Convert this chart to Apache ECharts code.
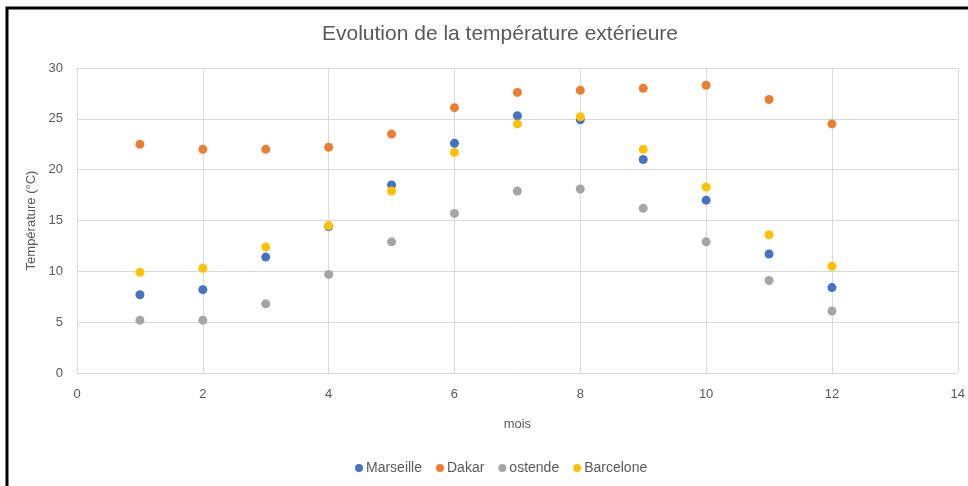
<!DOCTYPE html>
<html>
<head>
<meta charset="utf-8">
<script src="https://cdn.jsdelivr.net/npm/echarts@6/dist/echarts.min.js"></script>
<style>
html,body{margin:0;padding:0;background:#fff;}
#c{width:968px;height:486px;}
</style>
</head>
<body>
<div id="c"></div>
<script>
var months = [1, 2, 3, 4, 5, 6, 7, 8, 9, 10, 11, 12];
var marseille = [7.7, 8.2, 11.4, 14.4, 18.5, 22.6, 25.3, 24.9, 21.0, 17.0, 11.7, 8.4];
var dakar = [22.5, 22.0, 22.0, 22.2, 23.5, 26.1, 27.6, 27.8, 28.0, 28.3, 26.9, 24.5];
var ostende = [5.2, 5.2, 6.8, 9.7, 12.9, 15.7, 17.9, 18.1, 16.2, 12.9, 9.1, 6.1];
var barcelone = [9.9, 10.3, 12.4, 14.5, 17.9, 21.7, 24.5, 25.2, 22.0, 18.3, 13.6, 10.5];
var seriesNames = ['Marseille', 'Dakar', 'ostende', 'Barcelone'];
var seriesColors = ['#4472C4', '#ED7D31', '#A5A5A5', '#FFC000'];
var titleText = 'Evolution de la température extérieure';
var xName = 'mois';
var yName = 'Température (°C)';

function pairs(vals) {
  return months.map(function (m, i) { return [m, vals[i]]; });
}
var allVals = [marseille, dakar, ostende, barcelone];
var FONT = '"Liberation Sans", sans-serif';
var TXT = '#595959';

var chart = echarts.init(document.getElementById('c'), null, {renderer: 'canvas'});
chart.setOption({
  animation: false,
  backgroundColor: '#fff',
  title: {
    text: titleText,
    left: 495,
    textAlign: 'center',
    top: 19,
    textStyle: {fontFamily: FONT, fontSize: 21, fontWeight: 'normal', color: TXT}
  },
  legend: {
    data: seriesNames,
    bottom: 6,
    left: 350,
    icon: 'circle',
    itemWidth: 8,
    itemHeight: 8,
    itemGap: 14,
    textStyle: {fontFamily: FONT, fontSize: 14, color: TXT, padding: [0, 0, 0, -2]}
  },
  grid: {left: 77, right: 4, top: 68, bottom: 113, containLabel: false},
  xAxis: {
    type: 'value', min: 0, max: 14, interval: 2,
    name: xName, nameLocation: 'middle', nameGap: 45,
    nameTextStyle: {fontFamily: FONT, fontSize: 13, color: TXT},
    axisLine: {show: true, lineStyle: {color: '#D9D9D9'}},
    axisTick: {show: false},
    axisLabel: {fontFamily: FONT, fontSize: 13, color: TXT, margin: 15},
    splitLine: {show: true, lineStyle: {color: '#D9D9D9'}}
  },
  yAxis: {
    type: 'value', min: 0, max: 30, interval: 5,
    name: yName, nameLocation: 'middle', nameGap: 34, nameRotate: 90,
    nameTextStyle: {fontFamily: FONT, fontSize: 13, color: TXT},
    axisLine: {show: true, lineStyle: {color: '#D9D9D9'}},
    axisTick: {show: false},
    axisLabel: {fontFamily: FONT, fontSize: 13, color: TXT, margin: 14},
    splitLine: {show: true, lineStyle: {color: '#D9D9D9'}}
  },
  series: seriesNames.map(function (n, i) {
    return {
      name: n, type: 'scatter', data: pairs(allVals[i]),
      symbol: 'circle', symbolSize: 9,
      itemStyle: {color: seriesColors[i], opacity: 1}
    };
  }),
  graphic: [{
    type: 'rect', silent: true,
    shape: {x: 7, y: 8, width: 1000, height: 520},
    style: {fill: 'none', stroke: '#000', lineWidth: 3}
  }]
});
</script>
</body>
</html>
